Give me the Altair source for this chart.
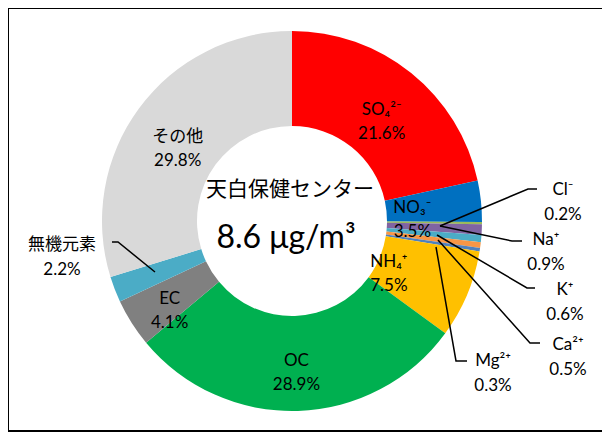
import altair as alt
import pandas as pd

# ---- data ----
categories = ["SO₄²⁻", "NO₃⁻", "Cl⁻", "Na⁺", "K⁺", "Ca²⁺", "Mg²⁺", "NH₄⁺", "OC", "EC", "無機元素", "その他"]
values = [21.6, 3.5, 0.2, 0.9, 0.6, 0.5, 0.3, 7.5, 28.9, 4.1, 2.2, 29.8]
colors = ["#FF0000", "#0070C0", "#9BBB59", "#8064A2", "#4BACC6", "#F79646", "#4F81BD",
          "#FFC000", "#00B050", "#808080", "#4BACC6", "#D9D9D9"]

title_text = "天白保健センター"
total_text = "8.6 μg/m³"

# ---- layout (label placement) ----
inside_label = [True, True, False, False, False, False, False, True, True, True, False, True]
inside_radius = [143, 121, 0, 0, 0, 0, 0, 105, 140, 145, 0, 142]

callout_names = ["Cl⁻", "Na⁺", "K⁺", "Ca²⁺", "Mg²⁺", "無機元素"]
callout_x = [271, 254, 273, 276, 201, -230]
callout_y = [31, -19, -69, -124, -140, -24]

leader_x = [[245, 236, 148], [230, 220, 148], [243, 235, 145], [248, 238, 146], [175, 164, 144], [-180, -174, -137]]
leader_y = [[32, 32, -5], [-20, -20, -5], [-67, -67, -14], [-122, -122, -19], [-140, -140, -26], [-21, -21, -51]]

W, H = 594, 424
CX, CY = 284, 213
FONT = "Lato, 'Noto Sans CJK JP', sans-serif"
FS = 17

slices = pd.DataFrame({
    "cat": categories,
    "value": values,
    "idx": list(range(len(categories))),
    "label": [f"{c}\n{v}%" if s else "" for c, v, s in zip(categories, values, inside_label)],
    "lr": inside_radius,
})

lookup = dict(zip(categories, values))
callouts = pd.DataFrame({
    "label": [f"{n}\n{lookup[n]}%" for n in callout_names],
    "x": callout_x,
    "y": callout_y,
})

rows = []
for i, (xs_, ys_) in enumerate(zip(leader_x, leader_y)):
    for j, (a, b) in enumerate(zip(xs_, ys_)):
        rows.append({"id": i, "ord": j, "x": a, "y": b})
leaders = pd.DataFrame(rows)

xs = alt.Scale(domain=[-CX, W - CX], nice=False, zero=False)
ys = alt.Scale(domain=[CY - H, CY], nice=False, zero=False)

arcs = alt.Chart(slices).mark_arc(outerRadius=190, innerRadius=95, stroke=None).encode(
    theta=alt.Theta("value:Q", stack=True),
    order=alt.Order("idx:Q"),
    color=alt.Color("cat:N", scale=alt.Scale(domain=categories, range=colors), legend=None),
    x=alt.value(CX), y=alt.value(CY),
)

inner_text = alt.Chart(slices).transform_joinaggregate(
    total="sum(value)"
).transform_window(
    cum="sum(value)", sort=[alt.SortField("idx")], frame=[None, 0]
).transform_calculate(
    ang="2*PI*(datum.cum - datum.value/2)/datum.total"
).transform_calculate(
    px="datum.lr*sin(datum.ang)", py="datum.lr*cos(datum.ang)"
).transform_filter(
    "datum.label != ''"
).mark_text(font=FONT, fontSize=FS, lineBreak="\n", lineHeight=24,
            align="center", baseline="middle", color="#000000").encode(
    x=alt.X("px:Q", scale=xs, axis=None),
    y=alt.Y("py:Q", scale=ys, axis=None),
    text="label:N",
)

lines = alt.Chart(leaders).mark_line(color="#000000", strokeWidth=1.5).encode(
    x=alt.X("x:Q", scale=xs, axis=None),
    y=alt.Y("y:Q", scale=ys, axis=None),
    detail="id:N",
    order="ord:Q",
)

callout_text = alt.Chart(callouts).mark_text(font=FONT, fontSize=FS, lineBreak="\n", lineHeight=25,
                                             align="center", baseline="middle", color="#000000").encode(
    x=alt.X("x:Q", scale=xs, axis=None),
    y=alt.Y("y:Q", scale=ys, axis=None),
    text="label:N",
)

center = pd.DataFrame({"t": [title_text, total_text], "x": [-2, -6], "y": [31, -17], "s": [21, 32]})
center_text = alt.Chart(center).mark_text(font=FONT, align="center", baseline="middle", color="#000000").encode(
    x=alt.X("x:Q", scale=xs, axis=None),
    y=alt.Y("y:Q", scale=ys, axis=None),
    text="t:N",
    size=alt.Size("s:Q", scale=None, legend=None),
)

border_left = alt.Chart(slices).mark_rule(color="#000000", strokeWidth=2).encode(
    x=alt.value(0), y=alt.value(0), y2=alt.value(H))
border_top = alt.Chart(slices).mark_rule(color="#000000", strokeWidth=2).encode(
    x=alt.value(0), x2=alt.value(W), y=alt.value(0))
border_bottom = alt.Chart(slices).mark_rule(color="#000000", strokeWidth=2).encode(
    x=alt.value(0), x2=alt.value(W), y=alt.value(H - 1))

chart = alt.layer(arcs, inner_text, lines, callout_text, center_text,
                  border_left, border_top, border_bottom).properties(
    width=W, height=H, padding=0, autosize="none", background="#FFFFFF"
).configure_view(stroke=None)

chart.save("out.html", embed_options={"renderer": "svg", "actions": False})
